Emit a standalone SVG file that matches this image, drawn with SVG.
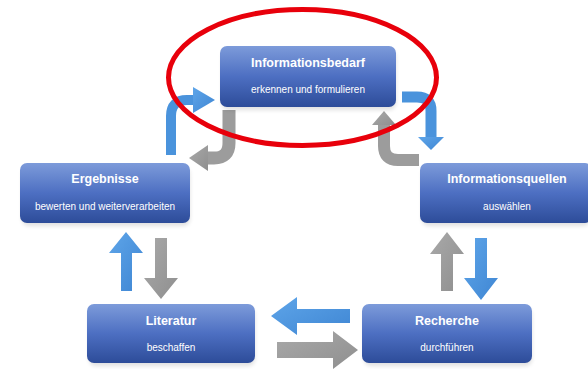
<svg xmlns="http://www.w3.org/2000/svg" width="588" height="369" viewBox="0 0 588 369">
<style>
.box{fill:url(#boxg);}
.shadow{fill:#000;opacity:0.12;filter:url(#blur);}
.title{font-family:"Liberation Sans",Arial,sans-serif;font-weight:bold;font-size:12.5px;fill:#fff;text-anchor:middle;}
.sub{font-family:"Liberation Sans",Arial,sans-serif;font-size:10px;fill:#fff;text-anchor:middle;}
.blue{fill:url(#blueg);}
.gray{fill:url(#grayg);}
.bline{fill:none;stroke:#4a93dc;}
.gline{fill:none;stroke:#9c9c9c;}
</style>
<defs>
<linearGradient id="boxg" x1="0" y1="0" x2="0" y2="1">
<stop offset="0" stop-color="#7d9bda"/>
<stop offset="0.5" stop-color="#4d6fc2"/>
<stop offset="1" stop-color="#2d4c99"/>
</linearGradient>
<linearGradient id="blueg" x1="0" y1="0" x2="1" y2="1">
<stop offset="0" stop-color="#5ea5e9"/>
<stop offset="1" stop-color="#3f86d3"/>
</linearGradient>
<linearGradient id="grayg" x1="0" y1="0" x2="1" y2="1">
<stop offset="0" stop-color="#a9a9a9"/>
<stop offset="1" stop-color="#8f8f8f"/>
</linearGradient>
<filter id="blur" x="-10%" y="-20%" width="120%" height="150%"><feGaussianBlur stdDeviation="2"/></filter>
</defs>
<rect width="588" height="369" fill="#fff"/>

<g id="connectors">
  <!-- top-left curved arrows -->
  <path class="bline" stroke-width="10" d="M171,155 L171,116 Q171,100 187,100 L195,100"/>
  <polygon class="blue" points="193,87 215,100 193,113"/>
  <path class="gline" stroke-width="13" d="M229,110 L229,143 Q229,158 214,158 L207,158"/>
  <polygon class="gray" points="208,145 189,158 208,171"/>
  <!-- top-right curved arrows -->
  <path class="bline" stroke-width="11" d="M402,97 L417,97 Q431,97 431,111 L431,138"/>
  <polygon class="blue" points="418,137 444,137 431,150"/>
  <path class="gline" stroke-width="12" d="M384,124 L384,146 Q384,160 398,160 L419,160"/>
  <polygon class="gray" points="372,125 396,125 384,111"/>
  <!-- left vertical pair -->
  <polygon class="blue" points="126,232 143,253 132,253 132,291 121,291 121,253 109,253"/>
  <polygon class="gray" points="155,238 167,238 167,278 178,278 161,299 144,278 155,278"/>
  <!-- right vertical pair -->
  <polygon class="gray" points="447,232 464,254 453,254 453,291 441,291 441,254 430,254"/>
  <polygon class="blue" points="475,238 487,238 487,278 498,278 481,300 464,278 475,278"/>
  <!-- bottom horizontal pair -->
  <polygon class="blue" points="271,316 297,297 297,309 350,309 350,323 297,323 297,335"/>
  <polygon class="gray" points="277,342 333,342 333,331 358,350 333,369 333,358 277,358"/>
</g>

<g id="node-informationsbedarf">
  <rect class="shadow" x="222" y="50" width="174" height="60" rx="7"/>
  <rect class="box" x="220" y="46" width="176" height="61" rx="7"/>
  <text class="title" x="308" y="67">Informationsbedarf</text>
  <text class="sub" x="308" y="93">erkennen und formulieren</text>
</g>

<g id="node-ergebnisse">
  <rect class="shadow" x="22" y="167" width="168" height="59" rx="7"/>
  <rect class="box" x="20" y="163" width="170" height="60" rx="7"/>
  <text class="title" x="105" y="183">Ergebnisse</text>
  <text class="sub" x="105" y="210">bewerten und weiterverarbeiten</text>
</g>

<g id="node-informationsquellen">
  <rect class="shadow" x="422" y="167" width="168" height="59" rx="7"/>
  <rect class="box" x="420" y="163" width="172" height="60" rx="7"/>
  <text class="title" x="507" y="183">Informationsquellen</text>
  <text class="sub" x="507" y="210">auswählen</text>
</g>

<g id="node-literatur">
  <rect class="shadow" x="89" y="308" width="166" height="58" rx="7"/>
  <rect class="box" x="87" y="304" width="168" height="59" rx="7"/>
  <text class="title" x="171" y="325">Literatur</text>
  <text class="sub" x="171" y="351">beschaffen</text>
</g>

<g id="node-recherche">
  <rect class="shadow" x="364" y="308" width="168" height="58" rx="7"/>
  <rect class="box" x="362" y="304" width="170" height="59" rx="7"/>
  <text class="title" x="447" y="325">Recherche</text>
  <text class="sub" x="447" y="351">durchführen</text>
</g>

<ellipse cx="302.5" cy="77.5" rx="134" ry="68" fill="none" stroke="#e8000b" stroke-width="5"/>
</svg>
